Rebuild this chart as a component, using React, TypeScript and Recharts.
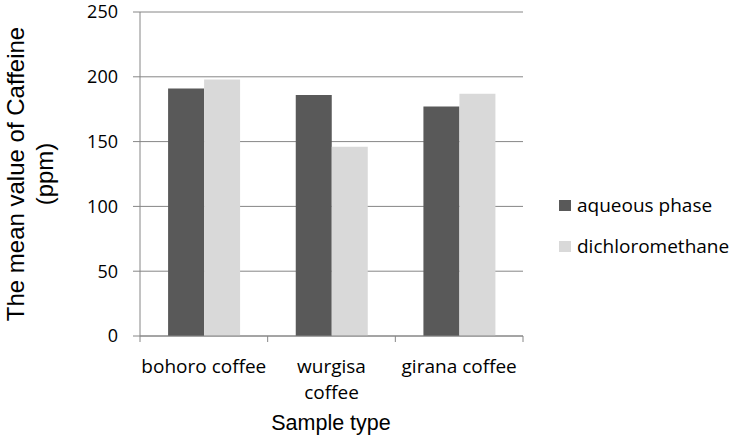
import React from "react";
import { BarChart, Bar, XAxis, YAxis, CartesianGrid } from "recharts";

const categories = ["bohoro coffee", "wurgisa coffee", "girana coffee"];
const tickLabels = [["bohoro coffee"], ["wurgisa", "coffee"], ["girana coffee"]];
const aqueous = [191, 186, 177];
const dichloromethane = [198, 146, 187];
const yTicks = [0, 50, 100, 150, 200, 250];
const seriesNames = ["aqueous phase", "dichloromethane"];
const seriesColors = ["#595959", "#d9d9d9"];

const data = categories.map((c, i) => ({
  name: c,
  aqueous: aqueous[i],
  dichloromethane: dichloromethane[i],
}));

const labelFont = "'Open Sans', 'Noto Sans', sans-serif";
const axisFont = "'Liberation Sans', Arial, sans-serif";
const gridColor = "#868686";

const XTick = (props: any) => {
  const { x, y, payload, index } = props;
  const lines = tickLabels[payload.index ?? index] || [payload.value];
  const half = payload.offset || 0;
  const isLast = (payload.index ?? index) === categories.length - 1;
  return (
    <g>
      <line x1={x - half} x2={x - half} y1={y} y2={y + 6} stroke={gridColor} />
      {isLast && <line x1={x + half} x2={x + half} y1={y} y2={y + 6} stroke={gridColor} />}
      <text x={x} y={y + 37} textAnchor="middle" fontFamily={labelFont} fontSize={19} fill="#000">
        {lines.map((l: string, i: number) => (
          <tspan key={i} x={x} dy={i === 0 ? 0 : 26}>
            {l}
          </tspan>
        ))}
      </text>
    </g>
  );
};

const YTitle = (props: any) => {
  const { viewBox } = props;
  const right = viewBox.x + viewBox.width;
  const cy = viewBox.y + viewBox.height / 2;
  const x1 = right - 116;
  const x2 = right - 87;
  return (
    <g>
      <text
        x={x1}
        y={cy}
        transform={`rotate(-90, ${x1}, ${cy})`}
        textAnchor="middle"
        fontFamily={axisFont}
        fontSize={24}
        fill="#000"
      >
        The mean value of Caffeine
      </text>
      <text
        x={x2}
        y={cy}
        transform={`rotate(-90, ${x2}, ${cy})`}
        textAnchor="middle"
        fontFamily={axisFont}
        fontSize={24}
        fill="#000"
      >
        (ppm)
      </text>
    </g>
  );
};

const XTitle = () => (
  <text x={331} y={430} textAnchor="middle" fontFamily={axisFont} fontSize={21.5} fill="#000">
    Sample type
  </text>
);

export default function App() {
  return (
    <div style={{ position: "absolute", left: 0, top: 0, width: 735, height: 439, background: "#fff" }}>
      <BarChart
        width={735}
        height={439}
        data={data}
        margin={{ top: 12, right: 212, bottom: 102, left: 80 }}
        barCategoryGap="22%"
        barGap={0}
      >
        <CartesianGrid vertical={false} stroke={gridColor} strokeWidth={1} />
        <XAxis
          dataKey="name"
          height={1}
          tickLine={false}
          tickSize={0}
          tickMargin={0}
          axisLine={{ stroke: gridColor }}
          tick={<XTick />}
          interval={0}
          label={<XTitle />}
        />
        <YAxis
          width={60}
          domain={[0, 250]}
          ticks={yTicks}
          interval={0}
          axisLine={{ stroke: gridColor }}
          tickLine={{ stroke: gridColor }}
          tickSize={7}
          tickMargin={15}
          tick={{ fill: "#000", fontSize: 18, fontFamily: labelFont }}
          label={<YTitle />}
        />
        <Bar dataKey="aqueous" name={seriesNames[0]} fill={seriesColors[0]} isAnimationActive={false} />
        <Bar dataKey="dichloromethane" name={seriesNames[1]} fill={seriesColors[1]} isAnimationActive={false} />
      </BarChart>
      <div
        style={{
          position: "absolute",
          left: 559,
          top: 185,
          fontFamily: labelFont,
          fontSize: 19,
          color: "#000",
        }}
      >
        {seriesNames.map((n, i) => (
          <div key={n} style={{ display: "flex", alignItems: "center", height: 41 }}>
            <div style={{ width: 12, height: 11, background: seriesColors[i], marginRight: 6 }} />
            <span style={{ lineHeight: "19px" }}>{n}</span>
          </div>
        ))}
      </div>
    </div>
  );
}
